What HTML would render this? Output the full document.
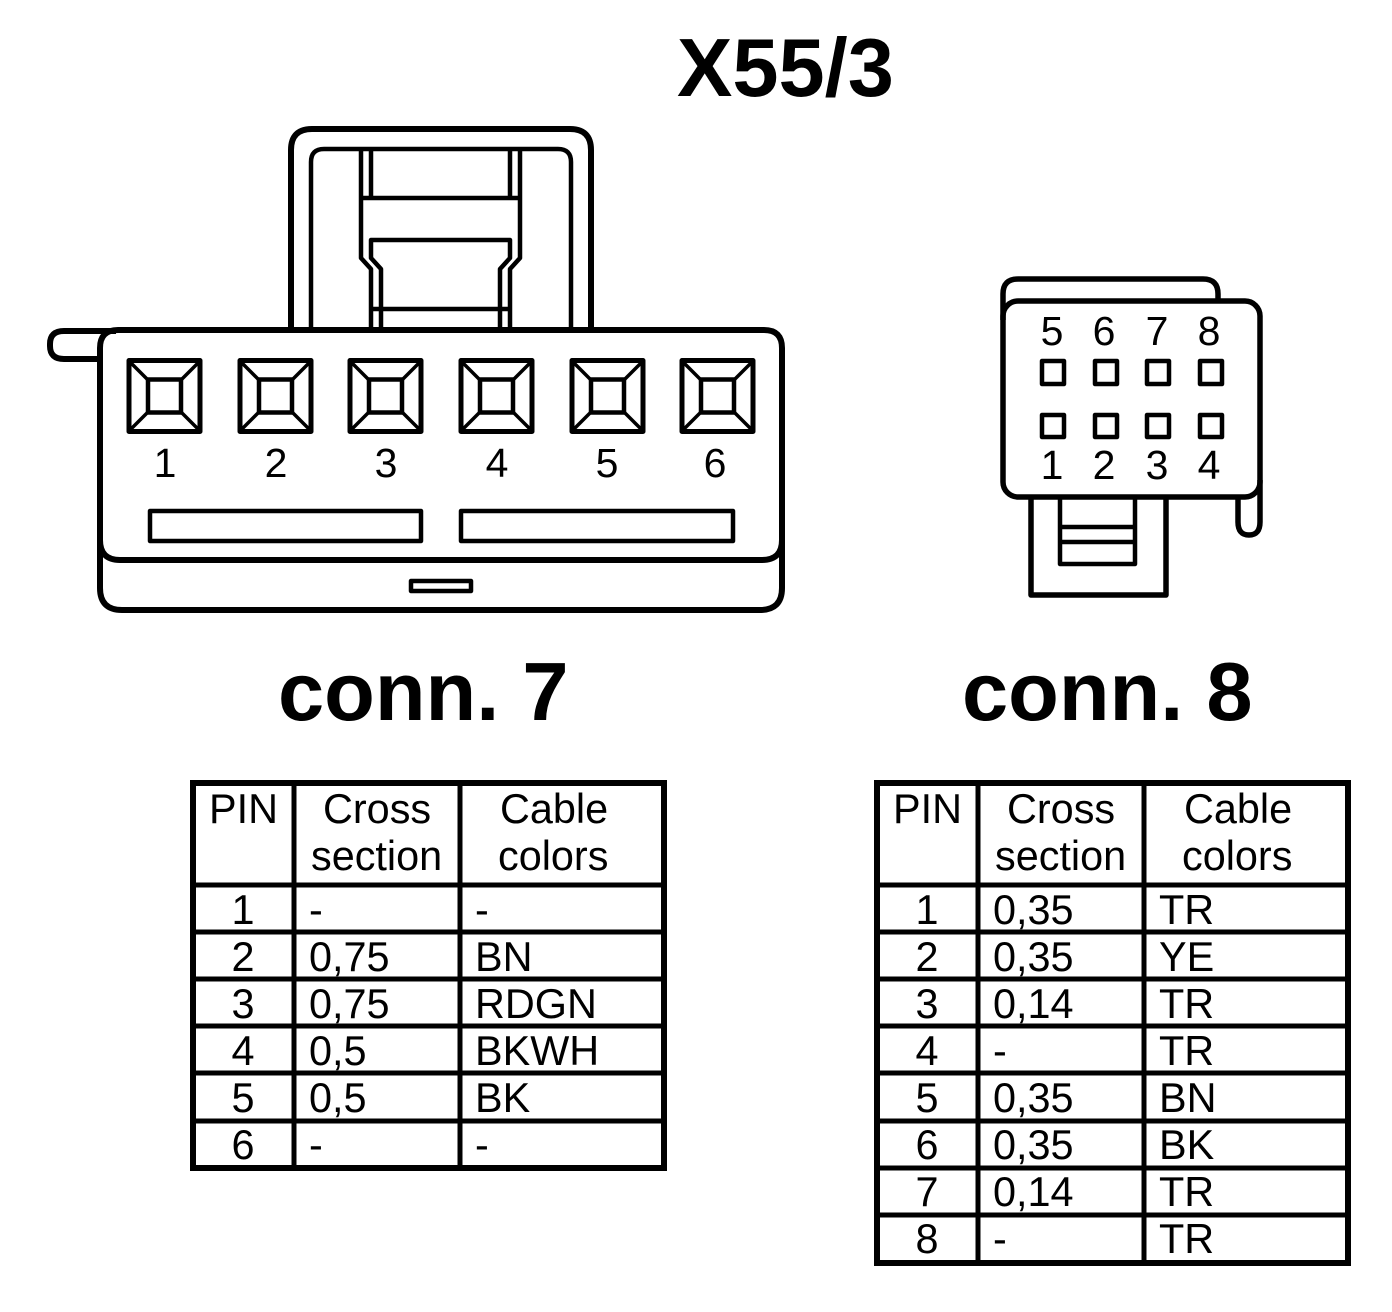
<!DOCTYPE html>
<html><head><meta charset="utf-8"><style>
html,body{margin:0;padding:0;background:#fff}
svg{display:block}
text{font-family:"Liberation Sans",sans-serif;fill:#000}
.n{font-size:41px}
.t{font-size:41.4px}
.b{font-size:83px;font-weight:bold}
.s{fill:none;stroke:#000;stroke-linejoin:round}
</style></head><body>
<svg width="1392" height="1312" viewBox="0 0 1392 1312" xmlns="http://www.w3.org/2000/svg">
<defs>
<g id="sq" class="s" stroke-width="4.5">
<rect x="2" y="1.5" width="71" height="71" stroke-width="5"/>
<rect x="21" y="20.5" width="33" height="33"/>
<path d="M2 2L21 21M73 2L54 21M2 72L21 53M73 72L54 53" stroke-width="3.5"/>
</g>
</defs>
<text class="b" x="677" y="96">X55/3</text>

<!-- conn 7 -->
<g class="s" stroke-width="6">
<path d="M291 329V150Q291 129 312 129H570Q591 129 591 150V329"/>
<path d="M116 331H64Q50 331 50 344V346Q50 359 64 359H100"/>
<path d="M100 348Q100 330 118 330H764Q782 330 782 348V540Q782 560 762 560H120Q100 560 100 540Z"/>
<path d="M100 540V588Q100 610 122 610H760Q782 610 782 588V540"/>
</g>
<g class="s" stroke-width="4.5">
<path d="M311 329V162Q311 149 324 149H558Q571 149 571 162V329"/>
<path d="M361 149V258L371 269V329M520 149V258L510 269V329"/>
<path d="M371 149V198M510 149V198M361 198H520"/>
<path d="M381 329V269L371 258V240H510V258L500 269V329"/>
<path d="M371 309H510"/>
<rect x="150" y="511" width="271" height="30"/>
<rect x="461" y="511" width="272" height="30"/>
<rect x="411" y="581" width="60" height="10"/>
</g>
<use href="#sq" x="127" y="359"/>
<use href="#sq" x="238" y="359"/>
<use href="#sq" x="348" y="359"/>
<use href="#sq" x="459" y="359"/>
<use href="#sq" x="570" y="359"/>
<use href="#sq" x="680" y="359"/>
<g class="n" text-anchor="middle">
<text x="165" y="477">1</text><text x="276" y="477">2</text><text x="386" y="477">3</text>
<text x="497" y="477">4</text><text x="607" y="477">5</text><text x="715" y="477">6</text>
</g>
<text class="b" x="278" y="720">conn. 7</text>

<!-- conn 8 -->
<g class="s" stroke-width="5.5">
<path d="M1003 320V294Q1003 279 1018 279H1203Q1218 279 1218 294V301"/>
<rect x="1003" y="301" width="257" height="196" rx="15"/>
<path d="M1238 497V522Q1238 535 1249 535Q1260 535 1260 522V480"/>
<path d="M1031 497V595H1166V497"/>
</g>
<g class="s" stroke-width="4.5">
<path d="M1060 497V564H1135V497M1060 527H1135M1060 542H1135"/>
<rect x="1042" y="361" width="22" height="23"/><rect x="1095" y="361" width="22" height="23"/><rect x="1147" y="361" width="22" height="23"/><rect x="1200" y="361" width="22" height="23"/>
<rect x="1042" y="415" width="22" height="22"/><rect x="1095" y="415" width="22" height="22"/><rect x="1147" y="415" width="22" height="22"/><rect x="1200" y="415" width="22" height="22"/>
</g>
<g class="n" text-anchor="middle">
<text x="1052" y="345">5</text><text x="1104" y="345">6</text><text x="1157" y="345">7</text><text x="1209" y="345">8</text>
<text x="1052" y="479">1</text><text x="1104" y="479">2</text><text x="1157" y="479">3</text><text x="1209" y="479">4</text>
</g>
<text class="b" x="962" y="720">conn. 8</text>

<!-- table 1 -->
<rect x="193" y="783" width="471" height="385" fill="none" stroke="#000" stroke-width="6"/>
<g class="s" stroke-width="5">
<path d="M294 783V1168M460 783V1168M193 885H664M193 932H664M193 979H664M193 1026H664M193 1073H664M193 1121H664"/>
</g>
<g class="t">
<text x="209" y="823">PIN</text><text x="323" y="823">Cross</text><text x="311" y="870">section</text>
<text x="500" y="823">Cable</text><text x="498" y="870">colors</text>
<g text-anchor="middle">
<text x="243" y="924">1</text><text x="243" y="971">2</text><text x="243" y="1018">3</text><text x="243" y="1065">4</text><text x="243" y="1112">5</text><text x="243" y="1159">6</text>
</g>
<text x="309" y="924">-</text><text x="475" y="924">-</text>
<text x="309" y="971">0,75</text><text x="475" y="971">BN</text>
<text x="309" y="1018">0,75</text><text x="475" y="1018">RDGN</text>
<text x="309" y="1065">0,5</text><text x="475" y="1065">BKWH</text>
<text x="309" y="1112">0,5</text><text x="475" y="1112">BK</text>
<text x="309" y="1159">-</text><text x="475" y="1159">-</text>
</g>

<!-- table 2 -->
<rect x="877" y="783" width="471" height="480" fill="none" stroke="#000" stroke-width="6"/>
<g class="s" stroke-width="5">
<path d="M978 783V1263M1144 783V1263M877 885H1348M877 932H1348M877 979H1348M877 1026H1348M877 1073H1348M877 1121H1348M877 1168H1348M877 1215H1348"/>
</g>
<g class="t">
<text x="893" y="823">PIN</text><text x="1007" y="823">Cross</text><text x="995" y="870">section</text>
<text x="1184" y="823">Cable</text><text x="1182" y="870">colors</text>
<g text-anchor="middle">
<text x="927" y="924">1</text><text x="927" y="971">2</text><text x="927" y="1018">3</text><text x="927" y="1065">4</text><text x="927" y="1112">5</text><text x="927" y="1159">6</text><text x="927" y="1206">7</text><text x="927" y="1253">8</text>
</g>
<text x="993" y="924">0,35</text><text x="1159" y="924">TR</text>
<text x="993" y="971">0,35</text><text x="1159" y="971">YE</text>
<text x="993" y="1018">0,14</text><text x="1159" y="1018">TR</text>
<text x="993" y="1065">-</text><text x="1159" y="1065">TR</text>
<text x="993" y="1112">0,35</text><text x="1159" y="1112">BN</text>
<text x="993" y="1159">0,35</text><text x="1159" y="1159">BK</text>
<text x="993" y="1206">0,14</text><text x="1159" y="1206">TR</text>
<text x="993" y="1253">-</text><text x="1159" y="1253">TR</text>
</g>
</svg>
</body></html>
